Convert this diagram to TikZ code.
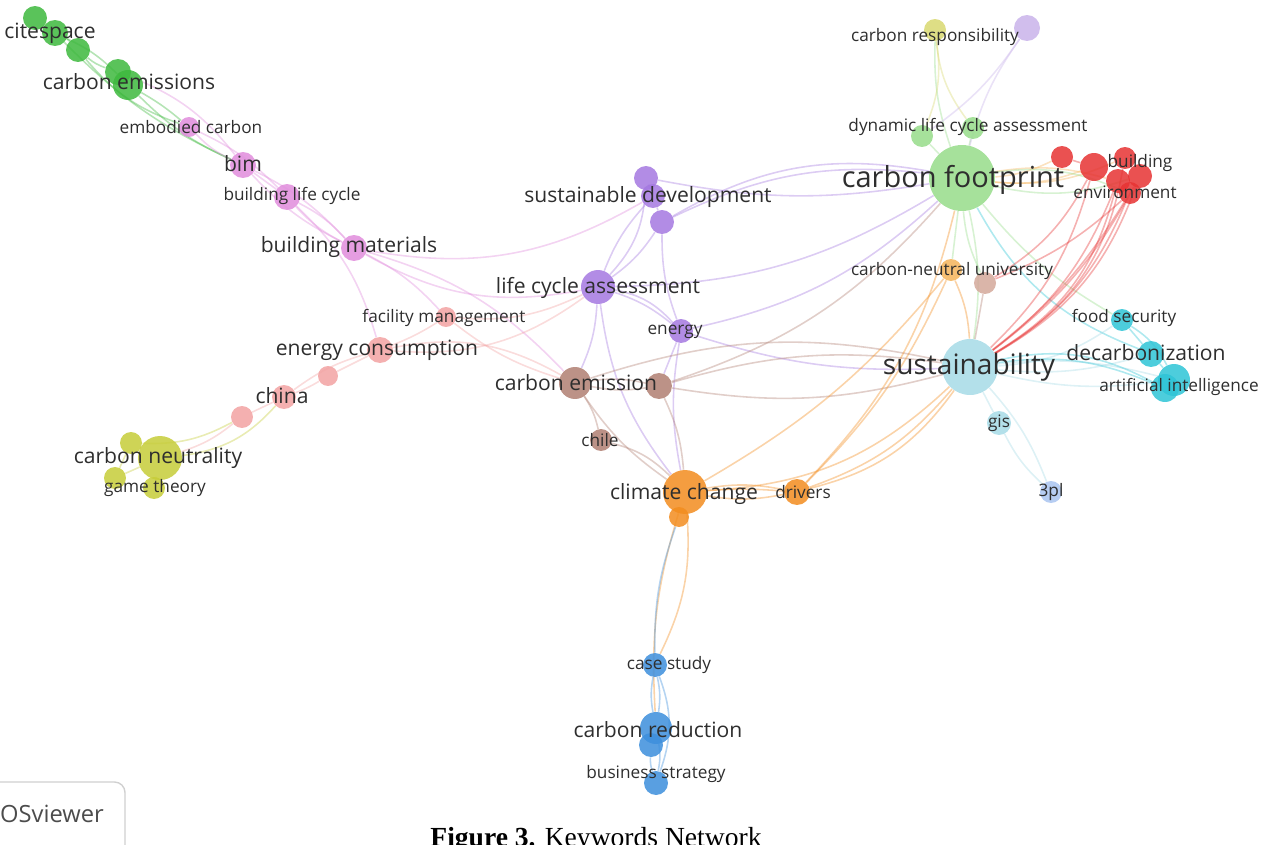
\documentclass[tikz,border=0pt]{standalone}
\usepackage{fontspec}
\setmainfont{Open Sans}
\newfontfamily\capfont{Liberation Serif}
\usepackage{xcolor}
\usetikzlibrary{backgrounds}

\definecolor{txt}{HTML}{2E2E2E}
\definecolor{cgreen}{HTML}{3DB83D}
\definecolor{cpink}{HTML}{E08CDC}
\definecolor{csalmon}{HTML}{F2A2A2}
\definecolor{colive}{HTML}{C6CC38}
\definecolor{cpurple}{HTML}{A478E0}
\definecolor{clpurple}{HTML}{C9B3EA}
\definecolor{cbrown}{HTML}{B07F72}
\definecolor{cbrownlt}{HTML}{D4A89A}
\definecolor{corange}{HTML}{F28C1E}
\definecolor{corangelt}{HTML}{F5B45A}
\definecolor{cblue}{HTML}{3C8EDC}
\definecolor{clblue}{HTML}{A9C4F0}
\definecolor{clgreen}{HTML}{96DC8A}
\definecolor{cyellow}{HTML}{D8D870}
\definecolor{cred}{HTML}{E63232}
\definecolor{clcyan}{HTML}{A6DAE6}
\definecolor{ccyan}{HTML}{2EC4D6}
\definecolor{boxline}{HTML}{D0D0D0}

\begin{document}
\begin{tikzpicture}[x=0.02cm, y=-0.02cm,
    kw/.style 2 args={circle, inner sep=0pt, fill=#1, fill opacity=0.85, minimum size=#2*0.04cm},
    lbl/.style={inner sep=0pt, text=txt},
    big/.style={lbl, font=\fontsize{16.5}{18}\selectfont},
    mid/.style={lbl, font=\fontsize{12}{14}\selectfont},
    sml/.style={lbl, font=\fontsize{9.8}{11}\selectfont},
    edge/.style={line width=0.9pt, draw opacity=0.38}]
    \useasboundingbox (0,0) rectangle (1272,845);
    \clip (0,0) rectangle (1272,845);

    % keywords
    \node [kw={cgreen}{12}] (cs1) at (35,18) {};
    \node [kw={cgreen}{13}] (cs2) at (55,33) {};
    \node [kw={cgreen}{12}] (cs3) at (78,50) {};
    \node [kw={cgreen}{13}] (ce1) at (118,72) {};
    \node [kw={cgreen}{15}] (ce2) at (128,85) {};
    \node [kw={cpink}{10}] (ec) at (189,127) {};
    \node [kw={cpink}{13}] (bim) at (243,165) {};
    \node [kw={cpink}{13}] (blc) at (287,197) {};
    \node [kw={cpink}{13}] (bm) at (354,248) {};
    \node [kw={csalmon}{10}] (fm) at (446,317) {};
    \node [kw={csalmon}{13}] (ecn) at (380,350) {};
    \node [kw={csalmon}{10}] (s3) at (328,376) {};
    \node [kw={csalmon}{12}] (china) at (284,397) {};
    \node [kw={csalmon}{11}] (s5) at (242,417) {};
    \node [kw={colive}{11}] (cn2) at (131,443) {};
    \node [kw={colive}{11}] (cn3) at (115,478) {};
    \node [kw={colive}{11}] (cn4) at (154,488) {};
    \node [kw={colive}{22}] (cn) at (160,458) {};
    \node [kw={cpurple}{12}] (sd1) at (646,178) {};
    \node [kw={cpurple}{12}] (sd2) at (653,196) {};
    \node [kw={cpurple}{12}] (sd3) at (662,222) {};
    \node [kw={cpurple}{17}] (lca) at (598,287) {};
    \node [kw={cpurple}{12}] (en) at (681,331) {};
    \node [kw={cbrown}{16}] (cem) at (575,383) {};
    \node [kw={cbrown}{13}] (cem2) at (659,386) {};
    \node [kw={cbrown}{11}] (chile) at (601,440) {};
    \node [kw={corange}{10}] (cc2) at (679,517) {};
    \node [kw={corange}{22}] (cc) at (685,492) {};
    \node [kw={corange}{13}] (drv) at (797,492) {};
    \node [kw={cblue}{12}] (cs) at (655,665) {};
    \node [kw={cblue}{12}] (cr2) at (651,745) {};
    \node [kw={cblue}{16}] (cr) at (656,728) {};
    \node [kw={cblue}{12}] (bs) at (656,783) {};
    \node [kw={cyellow}{11}] (cresp) at (935,30) {};
    \node [kw={clpurple}{13}] (pl) at (1027,28) {};
    \node [kw={clgreen}{11}] (dl1) at (922,136) {};
    \node [kw={clgreen}{11}] (dl2) at (973,128) {};
    \node [kw={clgreen}{33}] (cf) at (962,178) {};
    \node [kw={cred}{11}] (r1) at (1062,157) {};
    \node [kw={cred}{14}] (r2) at (1094,167) {};
    \node [kw={cred}{11}] (r3) at (1125,158) {};
    \node [kw={cred}{12}] (r4) at (1140,176) {};
    \node [kw={cred}{12}] (r5) at (1118,181) {};
    \node [kw={cred}{11}] (r6) at (1130,193) {};
    \node [kw={corangelt}{11}] (cnu) at (951,270) {};
    \node [kw={cbrownlt}{11}] (cnub) at (985,283) {};
    \node [kw={clcyan}{28}] (sust) at (970,367) {};
    \node [kw={clcyan}{12}] (gis) at (999,423) {};
    \node [kw={clblue}{11}] (tpl) at (1051,492) {};
    \node [kw={ccyan}{11}] (food) at (1122,320) {};
    \node [kw={ccyan}{13}] (dec) at (1151,354) {};
    \node [kw={ccyan}{14}] (ai2) at (1165,388) {};
    \node [kw={ccyan}{16}] (ai) at (1174,380) {};

    \begin{pgfonlayer}{background}
    \foreach \a/\b/\c/\k in {cs1/cs2/cgreen/0, cs2/cs3/cgreen/10, cs3/ce1/cgreen/-10, ce1/ce2/cgreen/0,
        cs2/ce2/cgreen/10, cs3/ec/cgreen/-15, cs2/bim/cgreen/-10, ce2/ec/cgreen/5, ce2/bim/cgreen/-10,
        ce1/bim/cpink/15, ec/bim/cpink/-10, ec/blc/cpink/10, bim/blc/cpink/0, bim/bm/cpink/-10,
        bim/bm/cpink/10, blc/bm/cpink/10, blc/bm/cpink/-10, bm/lca/cpink/-20, bm/sd2/cpink/-20,
        bm/fm/cpink/10, bm/cem/cpink/15, blc/ecn/cpink/15,
        fm/ecn/csalmon/5, fm/cem/csalmon/-10, fm/lca/csalmon/-15, ecn/s3/csalmon/0, s3/china/csalmon/5,
        ecn/china/csalmon/-10, china/s5/csalmon/0, s5/cn/csalmon/10, china/cn/colive/20,
        ecn/cem/csalmon/20, ecn/lca/csalmon/-20, s5/cn2/colive/15,
        cn/cn2/colive/0, cn/cn3/colive/0, cn/cn4/colive/0, cn2/cn3/colive/0,
        sd1/sd2/cpurple/0, sd2/sd3/cpurple/0, sd1/lca/cpurple/20, sd2/lca/cpurple/-10, sd3/lca/cpurple/10,
        lca/en/cpurple/10, lca/en/cpurple/18, sd3/cf/cpurple/20, sd3/cf/cpurple/16, sd1/cf/cpurple/-10,
        lca/cf/cpurple/-15, en/cf/cpurple/-15, en/sust/cpurple/-10, en/cem2/cpurple/0, en/cc/cpurple/-10,
        lca/cem/cpurple/10, lca/cc/cpurple/-15, sd3/en/cpurple/-10,
        cem/cem2/cbrown/-10, cem/cem2/cbrown/10, cem/chile/cbrown/10, chile/cc/cbrown/15, cem/cc/cbrown/-10,
        cem2/sust/cbrown/-12, cem2/sust/cbrown/12, cem2/cf/cbrown/-15, cem/sust/cbrown/15, cem2/cc/cbrown/10,
        cc/drv/corange/10, cc/drv/corange/-10, cc/drv/corange/4, drv/sust/corange/-15, drv/sust/corange/-20,
        drv/cf/corange/-15, cc/sust/corange/-20, cc/cs/corange/15, cc/cr/corange/-10, cc/cnu/corange/-10,
        drv/cnu/corange/-10,
        cs/cr/cblue/10, cs/cr/cblue/-10, cr/bs/cblue/10, cr2/bs/cblue/-10, cs/bs/cblue/20, cc2/cs/cblue/-10,
        cf/dl1/clgreen/0, cf/dl2/clgreen/0, cf/cresp/clgreen/10, dl1/cresp/cyellow/-15, dl2/cresp/cyellow/15,
        cf/pl/clpurple/10, dl1/pl/clpurple/-10, cf/r1/corangelt/-10, cf/r2/corangelt/-12, cf/r3/corangelt/-14,
        cf/r4/clgreen/-15, cf/r5/corangelt/12, cf/r6/clgreen/15, cf/sust/clgreen/10, cf/cnu/clgreen/0,
        cf/cnub/clgreen/-10, cf/dec/ccyan/-20, cf/food/clgreen/-10,
        r5/sust/cred/15, r6/sust/cred/10, r4/sust/cred/20, r2/sust/cred/15, r3/sust/cred/25, r6/cnub/cred/10,
        r1/r2/cred/0, r5/sust/cred/22, r6/sust/cred/18, r4/sust/cred/12, r2/cnub/cred/15,
        sust/food/clcyan/-15, sust/dec/clcyan/-10, sust/ai/clcyan/10, sust/ai/clcyan/-10, sust/ai2/ccyan/15,
        sust/ai2/ccyan/20, sust/gis/clcyan/0, sust/tpl/clcyan/10, gis/tpl/clcyan/-10, food/dec/ccyan/0,
        dec/ai/ccyan/0, food/ai/ccyan/15, cnub/sust/cbrown/0, cnu/sust/corange/10}
      \draw [edge, \c] (\a) to [bend left=\k] (\b);
    \end{pgfonlayer}

    % labels
    \node [mid] (t-cs) at (50,33) {citespace};
    \node [mid] (t-ce) at (129,82) {carbon emissions};
    \node [sml] (t-ec) at (191,127) {embodied carbon};
    \node [mid] (t-bim) at (243,164) {bim};
    \node [sml] (t-blc) at (292,196) {building life cycle};
    \node [mid] (t-bm) at (349,247) {building materials};
    \node [sml] (t-fm) at (444,318) {facility management};
    \node [mid] (t-ecn) at (377,350) {energy consumption};
    \node [mid] (t-china) at (282,396) {china};
    \node [mid] (t-cn) at (158,458) {carbon neutrality};
    \node [sml] (t-gt) at (155,488) {game theory};
    \node [mid] (t-sd) at (648,197) {sustainable development};
    \node [mid] (t-lca) at (598,288) {life cycle assessment};
    \node [sml] (t-en) at (675,332) {energy};
    \node [mid] (t-cem) at (576,383) {carbon emission};
    \node [sml] (t-chile) at (600,440) {chile};
    \node [mid] (t-cc) at (684,494) {climate change};
    \node [sml] (t-drv) at (803,492) {drivers};
    \node [sml] (t-cs2) at (669,665) {case study};
    \node [mid] (t-cr) at (658,730) {carbon reduction};
    \node [sml] (t-bs) at (656,774) {business strategy};
    \node [sml] (t-cresp) at (935,37) {carbon responsibility};
    \node [sml] (t-dl) at (968,127) {dynamic life cycle assessment};
    \node [big] (t-cf) at (953,180) {carbon footprint};
    \node [sml] (t-bld) at (1140,163) {building};
    \node [sml] (t-env) at (1125,192) {environment};
    \node [sml] (t-cnu) at (952,271) {carbon-neutral university};
    \node [sml] (t-food) at (1124,318) {food security};
    \node [mid] (t-dec) at (1146,353) {decarbonization};
    \node [big, font=\fontsize{16}{18}\selectfont] (t-sust) at (969,367) {sustainability};
    \node [sml] (t-ai) at (1179,387) {artificial intelligence};
    \node [sml] (t-gis) at (999,423) {gis};
    \node [sml] (t-tpl) at (1051,492) {3pl};

    \draw [boxline, line width=0.8pt, rounded corners=6pt] (-20,782) rectangle (125,880);
    \node [lbl, text=black!70, font=\fontsize{13.5}{15}\selectfont] (vos) at (45,814) {VOSviewer};
    \node [anchor=base, inner sep=0pt, font=\capfont\fontsize{15.7}{18}\selectfont] (cap) at (596,846)
      {\textbf{Figure 3.} Keywords Network};
\end{tikzpicture}
\end{document}
